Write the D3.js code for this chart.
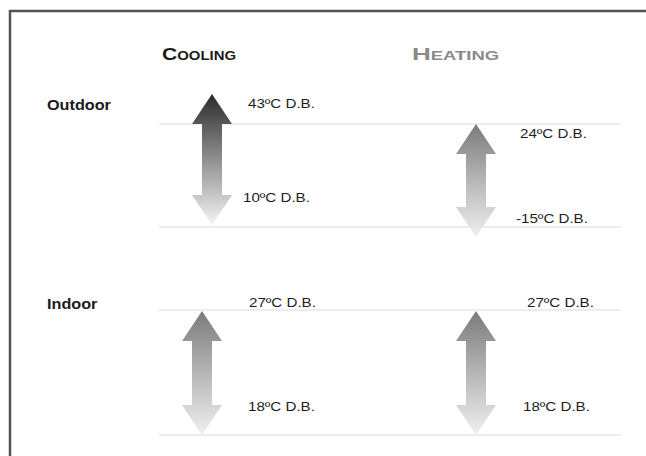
<!DOCTYPE html>
<html>
<head>
<meta charset="utf-8">
<script src="https://cdn.jsdelivr.net/npm/d3@7"></script>
<style>
  html, body { margin: 0; padding: 0; background: #fff; }
  svg { display: block; }
</style>
</head>
<body>
<div id="chart"></div>
<script>
// ---- data ----
const seasons = ["Cooling", "Heating"];
const locations = ["Outdoor", "Indoor"];
const coolingHigh = [43, 27];
const coolingLow = [10, 18];
const heatingHigh = [24, 27];
const heatingLow = [-15, 18];
const unitLabel = "ºC D.B.";

// ---- layout ----
const W = 646, H = 456;
const svg = d3.select("#chart").append("svg").attr("width", W).attr("height", H);

// frame
svg.append("path")
  .attr("d", d3.line()([[10, H], [10, 11], [W, 11]]))
  .attr("fill", "none").attr("stroke", "#555").attr("stroke-width", 2.5);

const xSeason = d3.scalePoint().domain(seasons).range([205, 476]);
const xOffset = { Outdoor: { Cooling: 7, Heating: 0 }, Indoor: { Cooling: -3, Heating: 0 } };
// vertical extents of each arrow (tip-to-tip) per location/season
const extent = {
  Outdoor: { Cooling: [94, 225], Heating: [124, 237] },
  Indoor: { Cooling: [311, 435], Heating: [311, 435] }
};
const rules = { Outdoor: [124, 227], Indoor: [310, 435] };
const rowLabelY = { Outdoor: 110, Indoor: 309 };

const defs = svg.append("defs");
function grad(id, top, bottom) {
  const g = defs.append("linearGradient").attr("id", id)
    .attr("x1", 0).attr("y1", 0).attr("x2", 0).attr("y2", 1);
  g.append("stop").attr("offset", "0%").attr("stop-color", top);
  g.append("stop").attr("offset", "100%").attr("stop-color", bottom);
}
grad("gDark", "#2b2b2b", "#f4f4f4");
grad("gMid", "#7b7b7b", "#f0f0f0");

function stretch(sel, f) {
  sel.each(function () {
    const n = this.getComputedTextLength();
    d3.select(this).attr("textLength", n * f).attr("lengthAdjust", "spacingAndGlyphs");
  });
}

// column headers
const headers = svg.selectAll("text.hdr").data(seasons).join("text")
  .attr("class", "hdr")
  .attr("x", d => d === "Cooling" ? 162 : 412)
  .attr("y", 60)
  .attr("font-family", "'Liberation Sans', Arial, sans-serif")
  .attr("font-weight", "bold")
  .attr("font-size", 17)
  .style("font-variant", "small-caps")
  .attr("fill", d => d === "Cooling" ? "#1a1a1a" : "#8a8a8a")
  .text(d => d);
headers.each(function (d) {
  d3.select(this).attr("textLength", d === "Cooling" ? 74 : 87).attr("lengthAdjust", "spacingAndGlyphs");
});

// row labels
svg.selectAll("text.row").data(locations).join("text")
  .attr("class", "row")
  .attr("x", 47)
  .attr("y", d => rowLabelY[d])
  .attr("font-family", "'Liberation Sans', Arial, sans-serif")
  .attr("font-weight", "bold")
  .attr("font-size", 15)
  .attr("fill", "#1a1a1a")
  .text(d => d)
  .call(stretch, 1.08);

// rules
locations.forEach(loc => {
  svg.selectAll(null).data(rules[loc]).join("line")
    .attr("x1", 159).attr("x2", 621)
    .attr("y1", d => d).attr("y2", d => d)
    .attr("stroke", "#dcdcdc").attr("stroke-width", 1.2);
});

// arrows
const headH = 30, headW = 20, shaftW = 10;
const panels = [];
locations.forEach((loc, i) => {
  seasons.forEach(s => {
    const hi = s === "Cooling" ? coolingHigh[i] : heatingHigh[i];
    const lo = s === "Cooling" ? coolingLow[i] : heatingLow[i];
    panels.push({ loc, s, hi, lo });
  });
});

panels.forEach(p => {
  const [top, bottom] = extent[p.loc][p.s];
  const y = d3.scaleLinear().domain([p.lo, p.hi]).range([bottom, top]);
  const cx = xSeason(p.s) + xOffset[p.loc][p.s];
  const yt = y(p.hi), yb = y(p.lo);
  const pts = [
    [cx, yt], [cx + headW, yt + headH], [cx + shaftW, yt + headH],
    [cx + shaftW, yb - headH], [cx + headW, yb - headH], [cx, yb],
    [cx - headW, yb - headH], [cx - shaftW, yb - headH], [cx - shaftW, yt + headH],
    [cx - headW, yt + headH]
  ];
  const dark = p.loc === "Outdoor" && p.s === "Cooling";
  svg.append("path")
    .attr("d", d3.line()(pts) + "Z")
    .attr("fill", dark ? "url(#gDark)" : "url(#gMid)");

  // labels
  const lab = [
    { v: p.hi, yy: yt, pos: "hi" },
    { v: p.lo, yy: yb, pos: "lo" }
  ];
  const lx = {
    "Outdoor-Cooling-hi": [36, 14], "Outdoor-Cooling-lo": [31, -23],
    "Outdoor-Heating-hi": [44, 14], "Outdoor-Heating-lo": [40, -14],
    "Indoor-Cooling-hi": [47, -4], "Indoor-Cooling-lo": [46, -24],
    "Indoor-Heating-hi": [51, -4], "Indoor-Heating-lo": [47, -24]
  };
  svg.selectAll(null).data(lab).join("text")
    .attr("x", d => cx + lx[`${p.loc}-${p.s}-${d.pos}`][0])
    .attr("y", d => d.yy + lx[`${p.loc}-${p.s}-${d.pos}`][1])
    .attr("font-family", "'Liberation Sans', Arial, sans-serif")
    .attr("font-size", 13.5)
    .attr("fill", "#1e1e1e")
    .text(d => `${d.v}${unitLabel}`)
    .call(stretch, 1.12);
});
</script>
</body>
</html>
